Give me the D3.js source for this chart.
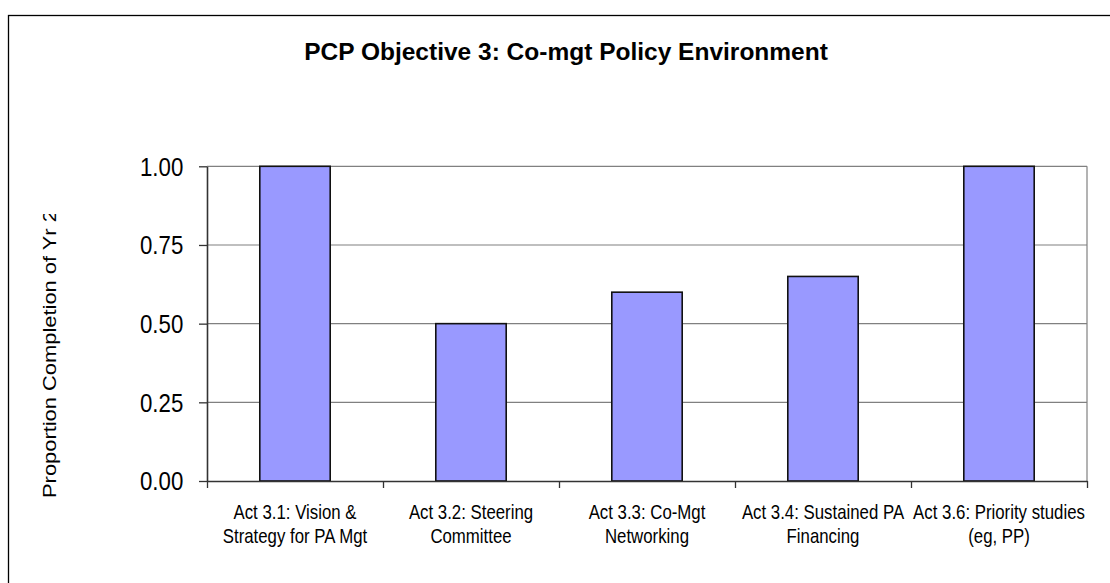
<!DOCTYPE html>
<html>
<head>
<meta charset="utf-8">
<script src="https://cdn.jsdelivr.net/npm/d3@7"></script>
<style>
  html, body { margin: 0; padding: 0; background: #fff; }
  svg { display: block; }
  text { font-family: "Liberation Sans", Arial, sans-serif; fill: #000; }
</style>
</head>
<body>
<svg id="chart" width="1110" height="583"></svg>
<script>
const title = "PCP Objective 3: Co-mgt Policy Environment";
const yAxisTitle = "Proportion Completion of Yr 2";
const categoryLines = [
  ["Act 3.1: Vision &", "Strategy for PA Mgt"],
  ["Act 3.2: Steering", "Committee"],
  ["Act 3.3: Co-Mgt", "Networking"],
  ["Act 3.4: Sustained PA", "Financing"],
  ["Act 3.6: Priority studies", "(eg, PP)"]
];
const categories = categoryLines.map(l => l.join(" "));
const values = [1.00, 0.50, 0.60, 0.65, 1.00];
const yTicks = [0, 0.25, 0.5, 0.75, 1.0];

const svg = d3.select("#chart");
const plot = { left: 207, right: 1087, top: 166.3, bottom: 481 };
const kx = 0.82; // horizontal compression of the reference's text

// outer chart frame (right/bottom edges fall outside the picture)
svg.append("rect")
  .attr("x", 8.5).attr("y", 15.5).attr("width", 1200).attr("height", 700)
  .attr("fill", "none").attr("stroke", "#000").attr("stroke-width", 1.3);

const x = d3.scaleBand().domain(categories)
  .range([plot.left, plot.right]).paddingInner(0.6).paddingOuter(0.3);
const y = d3.scaleLinear().domain([0, 1]).range([plot.bottom, plot.top]);
const xEdges = d3.scalePoint().domain(d3.range(categories.length + 1))
  .range([plot.left, plot.right]);

// gridlines
svg.append("g").selectAll("line").data(yTicks.filter(d => d > 0)).join("line")
  .attr("x1", plot.left).attr("x2", plot.right)
  .attr("y1", d => y(d)).attr("y2", d => y(d))
  .attr("stroke", "#808080").attr("stroke-width", 1.2);
// right border of plot area
svg.append("line")
  .attr("x1", plot.right).attr("x2", plot.right)
  .attr("y1", y(1)).attr("y2", y(0))
  .attr("stroke", "#808080").attr("stroke-width", 1.2);

// bars
svg.append("g").selectAll("rect").data(values).join("rect")
  .attr("x", (d, i) => x(categories[i]))
  .attr("y", d => y(d))
  .attr("width", x.bandwidth())
  .attr("height", d => y(0) - y(d))
  .attr("fill", "#9999FF")
  .attr("stroke", "#111")
  .attr("stroke-width", 1.6);

// y axis
const yAxis = svg.append("g")
  .attr("transform", `translate(${plot.left},0)`)
  .call(d3.axisLeft(y).tickValues(yTicks).tickFormat(d3.format(".2f")).tickSize(8).tickSizeOuter(0));
yAxis.select(".domain").attr("stroke", "#333").attr("stroke-width", 1.6);
yAxis.selectAll(".tick line").attr("stroke", "#333").attr("stroke-width", 1.3);
yAxis.selectAll(".tick text")
  .attr("x", -23.7 / 0.84)
  .attr("dy", "0.33em")
  .attr("transform", "scale(0.84,1)")
  .style("font-size", "26.5px")
  .style("font-family", "'Liberation Sans', Arial, sans-serif")
  .attr("fill", "#000");

// x axis (ticks at category boundaries)
const xAxis = svg.append("g")
  .attr("transform", `translate(0,${plot.bottom})`)
  .call(d3.axisBottom(xEdges).tickFormat("").tickSize(7).tickSizeOuter(0));
xAxis.select(".domain").attr("stroke", "#333").attr("stroke-width", 1.6);
xAxis.selectAll(".tick line").attr("stroke", "#333").attr("stroke-width", 1.3);

// category labels
const lab = svg.append("g").selectAll("g").data(categoryLines).join("g")
  .attr("transform", (d, i) => `translate(${x(categories[i]) + x.bandwidth() / 2},0) scale(${kx},1)`);
lab.selectAll("text").data(d => d).join("text")
  .attr("x", 0)
  .attr("y", (d, j) => 519 + j * 24.3)
  .attr("text-anchor", "middle")
  .style("font-size", "20.5px")
  .text(d => d);

// title
svg.append("text")
  .attr("x", 566).attr("y", 60)
  .attr("text-anchor", "middle")
  .style("font-size", "24.5px").style("font-weight", "bold")
  .text(title);

// y axis title (clipped at top as in the reference)
svg.append("clipPath").attr("id", "ytclip")
  .append("rect").attr("x", 0).attr("y", 214).attr("width", 200).attr("height", 370);
svg.append("g").attr("clip-path", "url(#ytclip)")
  .append("text")
  .attr("transform", `translate(55.8,498) scale(0.83,1) rotate(-90)`)
  .attr("text-anchor", "start")
  .style("font-size", "21.9px")
  .text(yAxisTitle);
</script>
</body>
</html>
